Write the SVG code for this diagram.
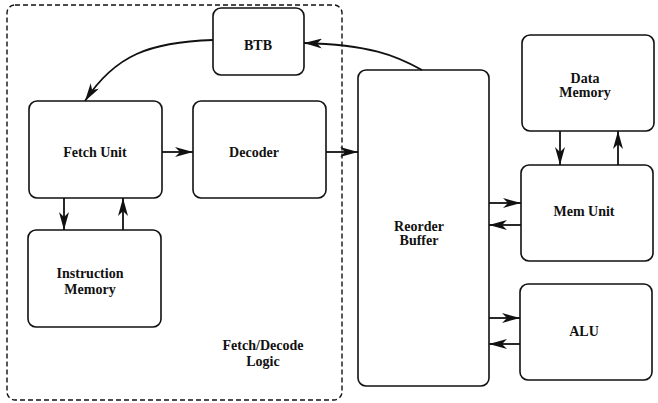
<svg xmlns="http://www.w3.org/2000/svg" width="658" height="403" viewBox="0 0 658 403">
<style>
.box{fill:#fff;stroke:#111;stroke-width:1.6}
.t{font-family:'Liberation Serif','DejaVu Serif',serif;font-weight:bold;font-size:14px;text-anchor:middle;fill:#111}
.c{fill:none;stroke:#111;stroke-width:1.8}
</style>
<defs>
<marker id="ah" viewBox="0 0 18 10" refX="18" refY="5" markerWidth="18" markerHeight="10" markerUnits="userSpaceOnUse" orient="auto">
<path d="M0,0 L18,5 L0,10 L5,5 z" fill="#111"/>
</marker>
</defs>
<g id="fetch-decode-logic">
<rect x="7" y="5" width="335" height="395" rx="8" fill="none" stroke="#111" stroke-width="1.4" stroke-dasharray="5,3"/>
<text class="t" x="263" y="350">Fetch/Decode</text>
<text class="t" x="263" y="366">Logic</text>
</g>
<g id="btb"><rect class="box" x="213" y="8" width="91" height="67" rx="8"/><text class="t" x="258" y="50">BTB</text></g>
<g id="fetch-unit"><rect class="box" x="29" y="101" width="133" height="97" rx="8"/><text class="t" x="95" y="157">Fetch Unit</text></g>
<g id="decoder"><rect class="box" x="193" y="101" width="133" height="97" rx="8"/><text class="t" x="254" y="157">Decoder</text></g>
<g id="instruction-memory"><rect class="box" x="28" y="230" width="133" height="97" rx="8"/><text class="t" x="90" y="278">Instruction</text><text class="t" x="90" y="294">Memory</text></g>
<g id="reorder-buffer"><rect class="box" x="358" y="70" width="131" height="316" rx="8"/><text class="t" x="419" y="231">Reorder</text><text class="t" x="419" y="245">Buffer</text></g>
<g id="data-memory"><rect class="box" x="522" y="35" width="132" height="96" rx="8"/><text class="t" x="585" y="83">Data</text><text class="t" x="585" y="97">Memory</text></g>
<g id="mem-unit"><rect class="box" x="521" y="165" width="132" height="96" rx="8"/><text class="t" x="584" y="216">Mem Unit</text></g>
<g id="alu"><rect class="box" x="520" y="284" width="132" height="96" rx="8"/><text class="t" x="584" y="336">ALU</text></g>
<g id="connectors">
<path class="c" d="M422,70 C395,55 370,45 304,43" marker-end="url(#ah)"/>
<path class="c" d="M213,40 C150,42 115,55 85,101" marker-end="url(#ah)"/>
<path class="c" d="M162,152 L193,152" marker-end="url(#ah)"/>
<path class="c" d="M326,152 L358,152" marker-end="url(#ah)"/>
<path class="c" d="M64,198 L64,230" marker-end="url(#ah)"/>
<path class="c" d="M123,230 L123,198" marker-end="url(#ah)"/>
<path class="c" d="M560,131 L560,165" marker-end="url(#ah)"/>
<path class="c" d="M618,165 L618,131" marker-end="url(#ah)"/>
<path class="c" d="M489,203 L521,203" marker-end="url(#ah)"/>
<path class="c" d="M521,225 L489,225" marker-end="url(#ah)"/>
<path class="c" d="M489,318 L520,318" marker-end="url(#ah)"/>
<path class="c" d="M520,344 L489,344" marker-end="url(#ah)"/>
</g>
</svg>
